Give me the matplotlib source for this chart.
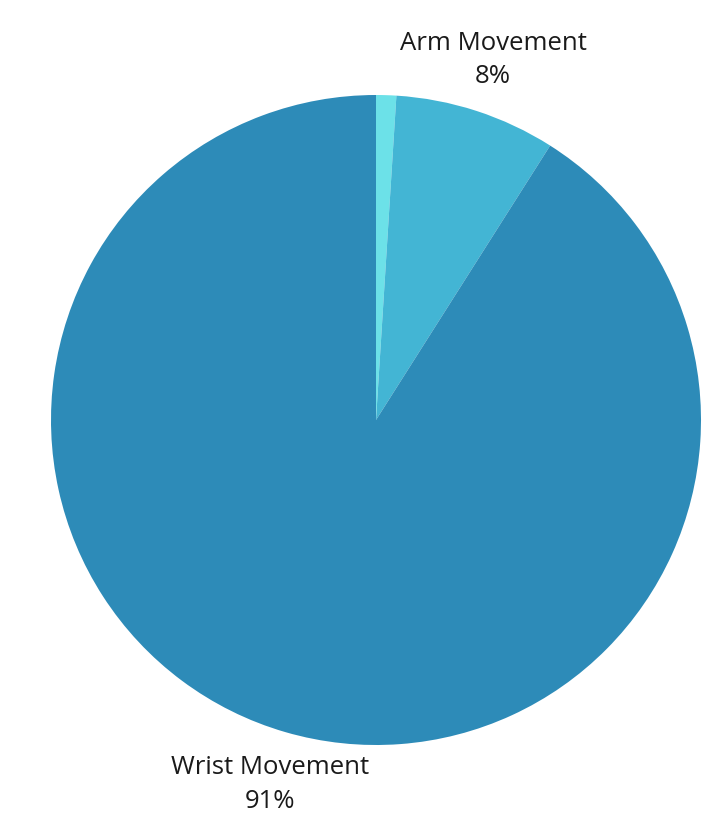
import matplotlib.pyplot as plt

categories = ['Other', 'Arm Movement', 'Wrist Movement']
shares = [1, 8, 91]  # percent
colors = ['#6ce1e8', '#43b5d4', '#2d8bb8']

# label positions in data units (pie radius = 1)
label_pos = {'Arm Movement': (0.36, 1.108), 'Wrist Movement': (-0.325, -1.122)}

plt.rcParams['font.family'] = ['Open Sans', 'DejaVu Sans']

fig = plt.figure(figsize=(7.15, 8.32), dpi=100)
fig.patch.set_facecolor('white')
bg = fig.add_axes([28 / 715, 0, 1 - 28 / 715, 1 - 6 / 832])
bg.set_facecolor('#fcfcfc')
bg.axis('off')
bg.patch.set_visible(True)

ax = fig.add_axes([(376 - 325) / 715, (832 - 420 - 325) / 832, 650 / 715, 650 / 832])
ax.pie(shares, colors=colors, startangle=90, counterclock=False,
       wedgeprops=dict(linewidth=0))
ax.set_xlim(-1, 1)
ax.set_ylim(-1, 1)
ax.set_aspect('equal')
ax.axis('off')

for name, val in zip(categories, shares):
    if name in label_pos:
        x, y = label_pos[name]
        ax.text(x, y, f'{name}\n{val}%', ha='center', va='center',
                fontsize=18.5, color='#1a1a1a', linespacing=1.45,
                clip_on=False)

fig.savefig('out.png', dpi=100)
